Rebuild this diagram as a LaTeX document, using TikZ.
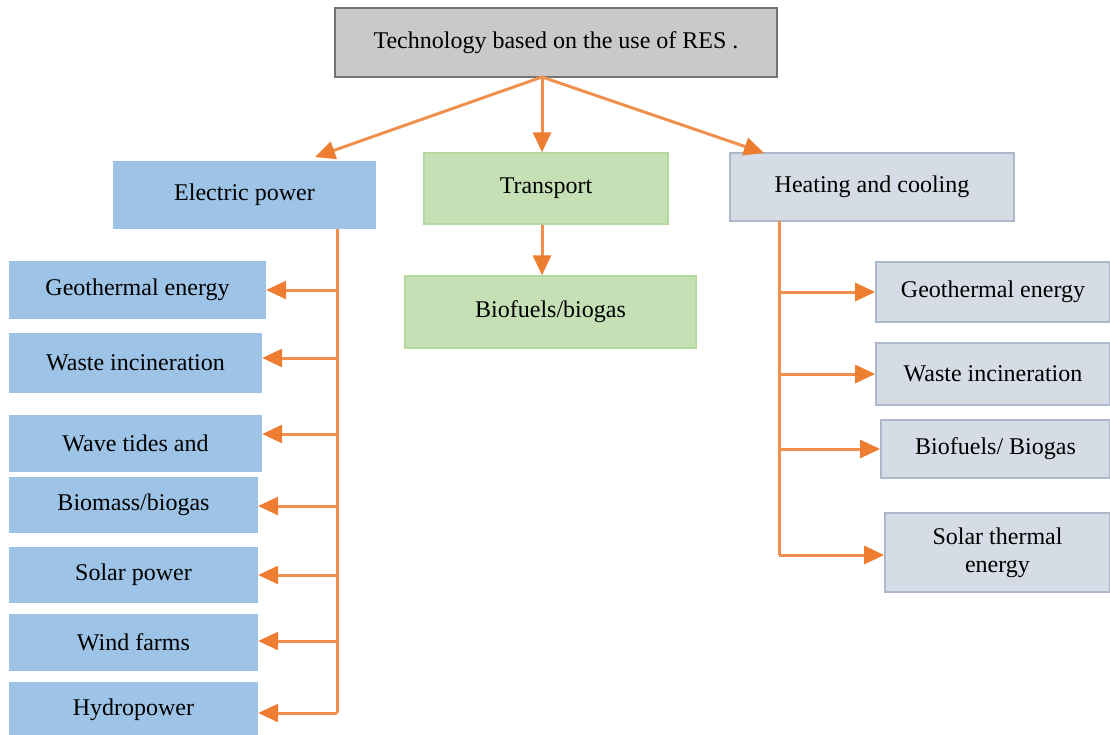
\documentclass[tikz,border=0pt]{standalone}
\usepackage{fontspec}
\setmainfont{Liberation Serif}
\usetikzlibrary{arrows.meta}
\definecolor{topfill}{HTML}{C9C9C9}
\definecolor{topline}{HTML}{737373}
\definecolor{bluefill}{HTML}{9DC3E6}
\definecolor{greenfill}{HTML}{C5E0B4}
\definecolor{greenline}{HTML}{B4D89E}
\definecolor{greyfill}{HTML}{D6DCE5}
\definecolor{greyline}{HTML}{ADB9CA}
\definecolor{orangeline}{HTML}{F0904F}
\definecolor{orangetip}{HTML}{ED7D31}
\tikzset{
  box/.style={rectangle, inner sep=0pt, align=center, font=\fontsize{24}{28}\selectfont, text=black},
  topbox/.style={box, fill=topfill, draw=topline, line width=2pt},
  bluebox/.style={box, fill=bluefill},
  greenbox/.style={box, fill=greenfill, draw=greenline, line width=1.5pt},
  greybox/.style={box, fill=greyfill, draw=greyline, line width=1.8pt},
  link/.style={draw=orangeline, line width=3pt},
  arr/.style={link, -{Triangle[length=20pt,width=18pt,fill=orangetip,color=orangetip]}},
}
\begin{document}
\begin{tikzpicture}[x=1pt,y=-1pt]
\useasboundingbox (0,0) rectangle (1110,734);
% top
\node[topbox, minimum width=442pt, minimum height=69pt] (top) at (556,42.5) {Technology based on the use of RES .};
% level 2
\node[bluebox, minimum width=263pt, minimum height=68pt] (elec) at (244.5,195) {Electric power};
\node[greenbox, minimum width=244pt, minimum height=71pt] (trans) at (546,188.5) {Transport};
\node[greybox, minimum width=284pt, minimum height=68pt] (heat) at (872,187) {Heating and cooling};
\node[greenbox, minimum width=291pt, minimum height=72pt] (tbio) at (550.5,312) {Biofuels/biogas};
% left column
\node[bluebox, minimum width=257pt, minimum height=58pt] (lgeo) at (137.5,290) {Geothermal energy};
\node[bluebox, minimum width=253pt, minimum height=60pt] (lwaste) at (135.5,363) {Waste incineration};
\node[bluebox, minimum width=253pt, minimum height=57pt] (lwave) at (135.5,443.5) {Wave tides and};
\node[bluebox, minimum width=249pt, minimum height=56pt] (lbio) at (133.5,505) {Biomass/biogas};
\node[bluebox, minimum width=249pt, minimum height=56pt] (lsolar) at (133.5,575) {Solar power};
\node[bluebox, minimum width=249pt, minimum height=57pt] (lwind) at (133.5,642.5) {Wind farms};
\node[bluebox, minimum width=249pt, minimum height=56pt] (lhydro) at (133.5,710) {Hydropower};
% right column
\node[greybox, minimum width=234pt, minimum height=60pt] (rgeo) at (993,292) {Geothermal energy};
\node[greybox, minimum width=234pt, minimum height=62pt] (rwaste) at (993,374) {Waste incineration};
\node[greybox, minimum width=229pt, minimum height=58pt] (rbio) at (995.5,449) {Biofuels/ Biogas};
\node[greybox, minimum width=225pt, minimum height=79pt] (rsolar) at (997.5,552.5) {Solar thermal\\energy};
% top connectors
\coordinate (src) at (542,77);
\draw[arr] (src) -- (315,157);
\draw[arr] (src) -- (src |- trans.north);
\draw[arr] (src) -- (764,153);
\draw[arr] (trans.south -| src) -- (tbio.north -| src);
% left trunk
\coordinate (ltop) at (337,229);
\coordinate (l1) at (337,290);
\coordinate (l2) at (337,358);
\coordinate (l3) at (337,434);
\coordinate (l4) at (337,506);
\coordinate (l5) at (337,575);
\coordinate (l6) at (337,641);
\coordinate (l7) at (337,713);
\draw[link] (ltop) -- (l7);
\draw[arr] (l1) -- (l1 -| lgeo.east);
\draw[arr] (l2) -- (l2 -| lwaste.east);
\draw[arr] (l3) -- (l3 -| lwave.east);
\draw[arr] (l4) -- (l4 -| lbio.east);
\draw[arr] (l5) -- (l5 -| lsolar.east);
\draw[arr] (l6) -- (l6 -| lwind.east);
\draw[arr] (l7) -- (l7 -| lhydro.east);
% right trunk
\coordinate (rtop) at (779,221);
\coordinate (r1) at (779,292);
\coordinate (r2) at (779,374);
\coordinate (r3) at (779,449);
\coordinate (r4) at (779,555);
\draw[link] (rtop) -- (r4);
\draw[arr] (r1) -- (r1 -| rgeo.west);
\draw[arr] (r2) -- (r2 -| rwaste.west);
\draw[arr] (r3) -- (r3 -| rbio.west);
\draw[arr] (r4) -- (r4 -| rsolar.west);
\end{tikzpicture}
\end{document}
